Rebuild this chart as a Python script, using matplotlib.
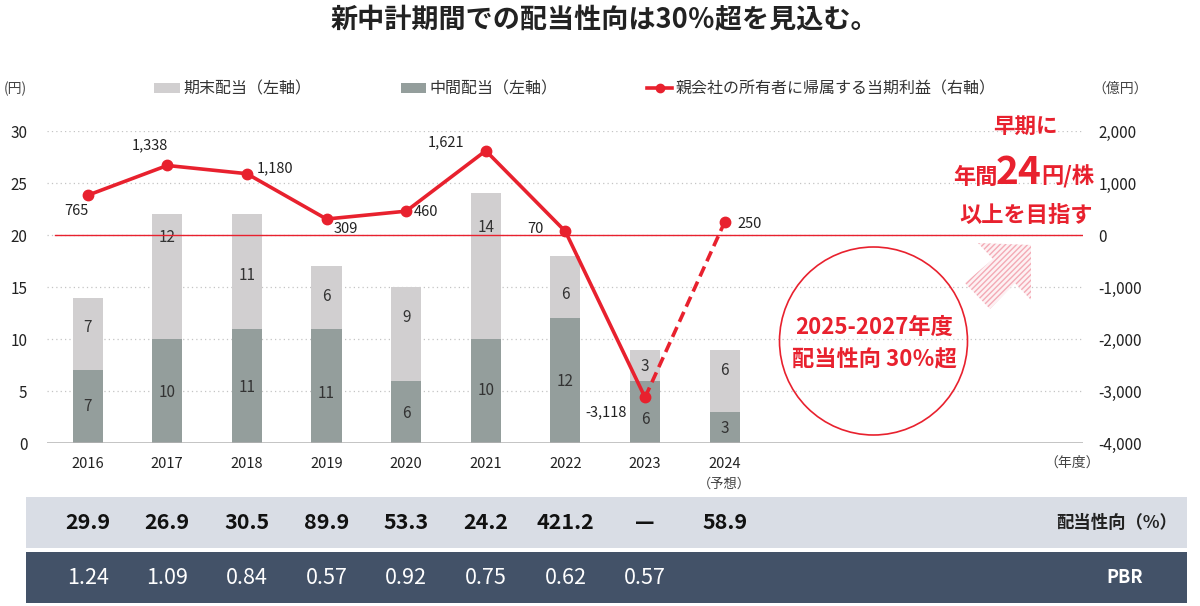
import matplotlib
matplotlib.use("Agg")
import matplotlib.pyplot as plt
from matplotlib.patches import Rectangle, Ellipse, Polygon, Patch
from matplotlib.lines import Line2D
from matplotlib.ticker import FuncFormatter
import matplotlib.transforms as mtransforms

plt.rcParams["font.family"] = ["Noto Sans CJK JP", "DejaVu Sans"]
plt.rcParams["hatch.linewidth"] = 1.0

# ---- data ----
years = ["2016", "2017", "2018", "2019", "2020", "2021", "2022", "2023", "2024"]
interim_div = [7, 10, 11, 11, 6, 10, 12, 6, 3]      # 中間配当
final_div = [7, 12, 11, 6, 9, 14, 6, 3, 6]          # 期末配当
net_income = [765, 1338, 1180, 309, 460, 1621, 70, -3118, 250]  # 億円
payout_ratio = ["29.9", "26.9", "30.5", "89.9", "53.3", "24.2", "421.2", "—", "58.9"]
pbr = ["1.24", "1.09", "0.84", "0.57", "0.92", "0.75", "0.62", "0.57", ""]

# label nudges (style only)
final_lbl_shift = [0.6, 3.8, -0.4, 0.1, 1.6, 3.7, -0.7, -0.1, 1.0]
interim_lbl_shift = [0, -0.1, -0.1, -0.7, -0.1, 0.1, -0.1, -0.7, -0.1]
ni_lbl_offset = [(-11, -16, "center"), (-17, 20, "center"), (10, 5, "left"),
                 (7, -10, "left"), (8, -1, "left"), (-21, 8, "right"),
                 (-22, 2, "right"), (-18, -15, "right"), (13, -2, "left")]

RED = "#e8212e"
LIGHT = "#d1cfd0"
DARK = "#949e9c"
TXT = "#222222"

fig = plt.figure(figsize=(12, 6.06), dpi=100)
fig.patch.set_facecolor("white")
ax = fig.add_axes([47 / 1200, 0.2685, 1036 / 1200, 0.5153])
ax2 = ax.twinx()

x = list(range(len(years)))
w = 0.377
ax.bar(x, interim_div, width=w, color=DARK, zorder=2)
ax.bar(x, final_div, width=w, bottom=interim_div, color=LIGHT, zorder=2)

for i in x:
    ax.text(i, interim_div[i] / 2 + interim_lbl_shift[i], str(interim_div[i]),
            ha="center", va="center", fontsize=11, color="#333333", zorder=3)
    ax.text(i, interim_div[i] + final_div[i] / 2 + final_lbl_shift[i], str(final_div[i]),
            ha="center", va="center", fontsize=11, color="#333333", zorder=3)

ax.set_xlim(-0.51, 12.5)
ax.set_ylim(0, 30)
ax.set_yticks(range(0, 31, 5))
ax.set_xticks(x)
ax.set_xticklabels(years, fontsize=10.5, color=TXT)
for y in range(5, 31, 5):
    ax.axhline(y, color="#c4c4c4", lw=0.9, ls=(0, (1, 2.5)), zorder=1)
ax.axhline(0, color="#b3b3b3", lw=1.8, zorder=2)
for s in ax.spines.values():
    s.set_visible(False)
ax.tick_params(axis="y", length=0, pad=14, labelsize=11, labelcolor=TXT)
ax.tick_params(axis="x", length=0, pad=10)

# right axis: net income
ax2.set_ylim(-4000, 2000)
ax2.set_yticks(range(-4000, 2001, 1000))
ax2.yaxis.set_major_formatter(FuncFormatter(lambda v, p: f"{v:,.0f}"))
ax2.tick_params(axis="y", length=0, pad=11, labelsize=11, labelcolor=TXT)
for s in ax2.spines.values():
    s.set_visible(False)
ax2.axhline(0, xmin=(-0.41 + 0.51) / 13.01, xmax=1.0, color=RED, lw=1.0, zorder=1)

ax2.plot(x[:8], net_income[:8], color=RED, lw=2.6, marker="o", ms=7.5,
         solid_joinstyle="round", zorder=4)
ax2.plot(x[7:], net_income[7:], color=RED, lw=2.6, ls=(0, (3, 1.6)), zorder=4)
ax2.plot(x[8:], net_income[8:], color=RED, marker="o", ms=7.5, ls="none", zorder=4)
for i, v in enumerate(net_income):
    dx, dy, ha = ni_lbl_offset[i]
    ax2.annotate(f"{v:,}", (i, v), xytext=(dx, dy), textcoords="offset pixels",
                 ha=ha, va="center", fontsize=10.5, color=TXT, zorder=5)

# (予想) under 2024
tb = mtransforms.blended_transform_factory(ax.transData, fig.transFigure)
ax.text(8, (606 - 484) / 606, "（予想）", transform=tb, ha="center", va="center",
        fontsize=9.5, color="#444444")

# unit labels
fig.text(15 / 1200, (606 - 89) / 606, "(円)", ha="center", va="center", fontsize=10, color="#444444")
fig.text(1120 / 1200, (606 - 89) / 606, "（億円）", ha="center", va="center", fontsize=10, color="#444444")
fig.text(1072 / 1200, (606 - 463) / 606, "（年度）", ha="center", va="center", fontsize=10, color="#444444")

# title
fig.text(604 / 1200, (606 - 20) / 606, "新中計期間での配当性向は30％超を見込む。",
         ha="center", va="center", fontsize=19.5, fontweight="bold", color=TXT)

# legend
handles = [Patch(facecolor=LIGHT, edgecolor="none"),
           Patch(facecolor=DARK, edgecolor="none"),
           Line2D([0], [0], color=RED, lw=2.6, marker="o", ms=6)]
labels = ["期末配当（左軸）", "中間配当（左軸）", "親会社の所有者に帰属する当期利益（右軸）"]
fig.legend(handles, labels, loc="center", bbox_to_anchor=(575 / 1200, (606 - 89) / 606),
           ncol=3, frameon=False, fontsize=11.5, handlelength=1.6, handleheight=0.65,
           handletextpad=0.2, columnspacing=5.6, labelcolor="#333333")

# target annotation
fig.text(1025 / 1200, (606 - 126) / 606, "早期に", ha="center", va="center",
         fontsize=15.5, fontweight="bold", color=RED)
base = (606 - 184) / 606
fig.text(998 / 1200, base, "年間", ha="right", va="baseline", fontsize=16, fontweight="bold", color=RED)
fig.text(1019 / 1200, base, "24", ha="center", va="baseline", fontsize=28, fontweight="bold", color=RED)
fig.text(1041 / 1200, base, "円/株", ha="left", va="baseline", fontsize=16, fontweight="bold", color=RED)
fig.text(1026 / 1200, (606 - 215) / 606, "以上を目指す", ha="center", va="center",
         fontsize=16, fontweight="bold", color=RED)

arrow_px = [(978, 243), (1031, 245), (1031, 300), (1015, 283), (990, 309), (965, 283), (993, 259)]
arrow = Polygon([(px / 1200, (606 - py) / 606) for px, py in arrow_px], closed=True,
                transform=fig.transFigure, facecolor="#fdf1f3", edgecolor="#f3aab5",
                hatch="//////", lw=0)
fig.patches.append(arrow)

# circle
circ = Ellipse((873.5 / 1200, (606 - 341) / 606), 188 / 1200, 188 / 606,
               transform=fig.transFigure, facecolor="none", edgecolor=RED, lw=1.2)
fig.patches.append(circ)
fig.text(874 / 1200, (606 - 327) / 606, "2025-2027年度", ha="center", va="center",
         fontsize=16, fontweight="bold", color=RED)
fig.text(874 / 1200, (606 - 360) / 606, "配当性向 30％超", ha="center", va="center",
         fontsize=16, fontweight="bold", color=RED)

# table rows (drawn behind the axes content)
fig.patches.append(Rectangle((25.7 / 1200, (606 - 548) / 606), 1161 / 1200, 51 / 606,
                             transform=fig.transFigure, facecolor="#d9dde5",
                             edgecolor="none", zorder=-1))
fig.patches.append(Rectangle((25.7 / 1200, (606 - 603) / 606), 1161 / 1200, 51 / 606,
                             transform=fig.transFigure, facecolor="#435268",
                             edgecolor="none", zorder=-1))
row1_y = (606 - 522.5) / 606
row2_y = (606 - 577.5) / 606
for i in x:
    ax.text(i, row1_y, payout_ratio[i], transform=tb, ha="center", va="center",
            fontsize=15.5, fontweight="bold", color="#111111", clip_on=False)
    ax.text(i, row2_y, pbr[i], transform=tb, ha="center", va="center",
            fontsize=15.5, color="white", clip_on=False)
fig.text(1117 / 1200, row1_y, "配当性向（%）", ha="center", va="center",
         fontsize=12.5, fontweight="bold", color="#222222")
fig.text(1125 / 1200, row2_y, "PBR", ha="center", va="center",
         fontsize=13, fontweight="bold", color="white")

fig.savefig("out.png", dpi=100, facecolor="white")
